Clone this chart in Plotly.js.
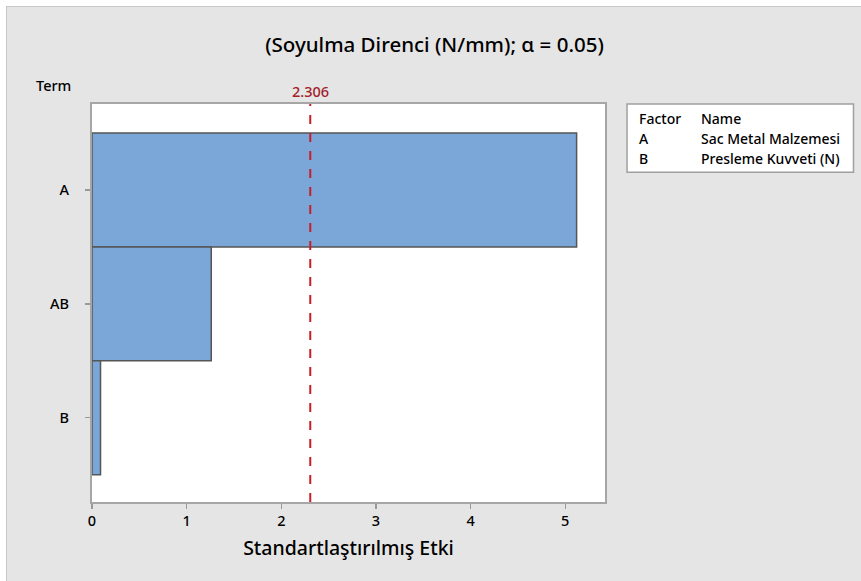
<!DOCTYPE html>
<html><head><meta charset="utf-8">
<script src="https://cdn.plot.ly/plotly-3.0.1.min.js"></script>
<style>
html,body{margin:0;padding:0;background:#fff;width:861px;height:581px;overflow:hidden}
#chart{position:absolute;left:6px;top:6px;width:855px;height:575px;border-left:1px solid #c8c8c8;border-top:1px solid #c8c8c8}
</style></head><body>
<div id="chart"></div>
<script>
const terms = ["A", "AB", "B"];
const effects = [5.12, 1.26, 0.09];
const criticalValue = 2.306;
const factorCodes = ["A", "B"];
const factorNames = ["Sac Metal Malzemesi", "Presleme Kuvveti (N)"];
const xTicks = [0, 1, 2, 3, 4, 5];

const F = "Noto Sans, Open Sans, sans-serif";
const W = 500;
const trace = {
  type: "bar", orientation: "h",
  x: effects, y: terms,
  width: 1,
  marker: {color: "#7ba6d8", line: {color: "#555555", width: 1.5}},
  hoverinfo: "x+y"
};
const lx = (p) => (p - 92) / 512;
const ly = (p) => (501 - p) / 397;
const LF = {family: F, size: 14, color: "#000", weight: W};
const annotations = [
  {text: "Term", xref: "paper", yref: "paper", x: lx(34), y: ly(85), xanchor: "left", yanchor: "middle", showarrow: false, font: {family: F, size: 14.5, color: "#000", weight: W}},
  {text: criticalValue.toFixed(3), xref: "x", yref: "paper", x: criticalValue, y: ly(91), xanchor: "center", yanchor: "middle", showarrow: false, font: {family: F, size: 14.5, color: "#a3202a", weight: W}},
  {text: "Factor", xref: "paper", yref: "paper", x: lx(636), y: ly(118), xanchor: "left", yanchor: "middle", showarrow: false, font: LF},
  {text: "Name", xref: "paper", yref: "paper", x: lx(698), y: ly(118), xanchor: "left", yanchor: "middle", showarrow: false, font: LF}
];
factorCodes.forEach((c, i) => {
  annotations.push({text: c, xref: "paper", yref: "paper", x: lx(636), y: ly(138 + 20 * i), xanchor: "left", yanchor: "middle", showarrow: false, font: LF});
  annotations.push({text: factorNames[i], xref: "paper", yref: "paper", x: lx(698), y: ly(138 + 20 * i), xanchor: "left", yanchor: "middle", showarrow: false, font: LF});
});
const layout = {
  width: 855, height: 575,
  paper_bgcolor: "#e5e5e5", plot_bgcolor: "#ffffff",
  margin: {l: 85, r: 257, t: 97, b: 80},
  showlegend: false,
  bargap: 0,
  title: {text: "(Soyulma Direnci (N/mm); α = 0.05)", x: 0.5, xref: "container", y: 1 - 38 / 575, yanchor: "middle", font: {family: F, size: 20.5, color: "#000", weight: W}},
  xaxis: {
    range: [0, 5.42], tickvals: xTicks, ticks: "outside", ticklen: 5, tickcolor: "#999", tickwidth: 1.5,
    showgrid: false, zeroline: false, showline: true, linecolor: "#a6a6a6", linewidth: 2, mirror: true,
    tickfont: {family: F, size: 14.5, color: "#000", weight: W},
    title: {text: "Standartlaştırılmış Etki", font: {family: F, size: 19.5, color: "#000", weight: W}, standoff: 12}
  },
  yaxis: {
    range: [2.74, -0.755], type: "category", ticks: "outside", ticklen: 5, tickcolor: "#999", tickwidth: 1.5,
    showgrid: false, zeroline: false, showline: true, linecolor: "#a6a6a6", linewidth: 2, mirror: true,
    tickfont: {family: F, size: 14.5, color: "#000", weight: W}, ticklabelstandoff: 13
  },
  shapes: [
    {type: "line", xref: "x", yref: "paper", x0: criticalValue, x1: criticalValue, y0: 0, y1: 1, line: {color: "#c81e28", width: 2, dash: "dash"}},
    {type: "rect", xref: "paper", yref: "paper", x0: lx(626), x1: lx(852), y0: ly(172), y1: ly(104), fillcolor: "#ffffff", line: {color: "#a0a0a0", width: 1.5}}
  ],
  annotations: annotations
};
Plotly.newPlot("chart", [trace], layout, {displayModeBar: false, staticPlot: true});
</script>
</body></html>
